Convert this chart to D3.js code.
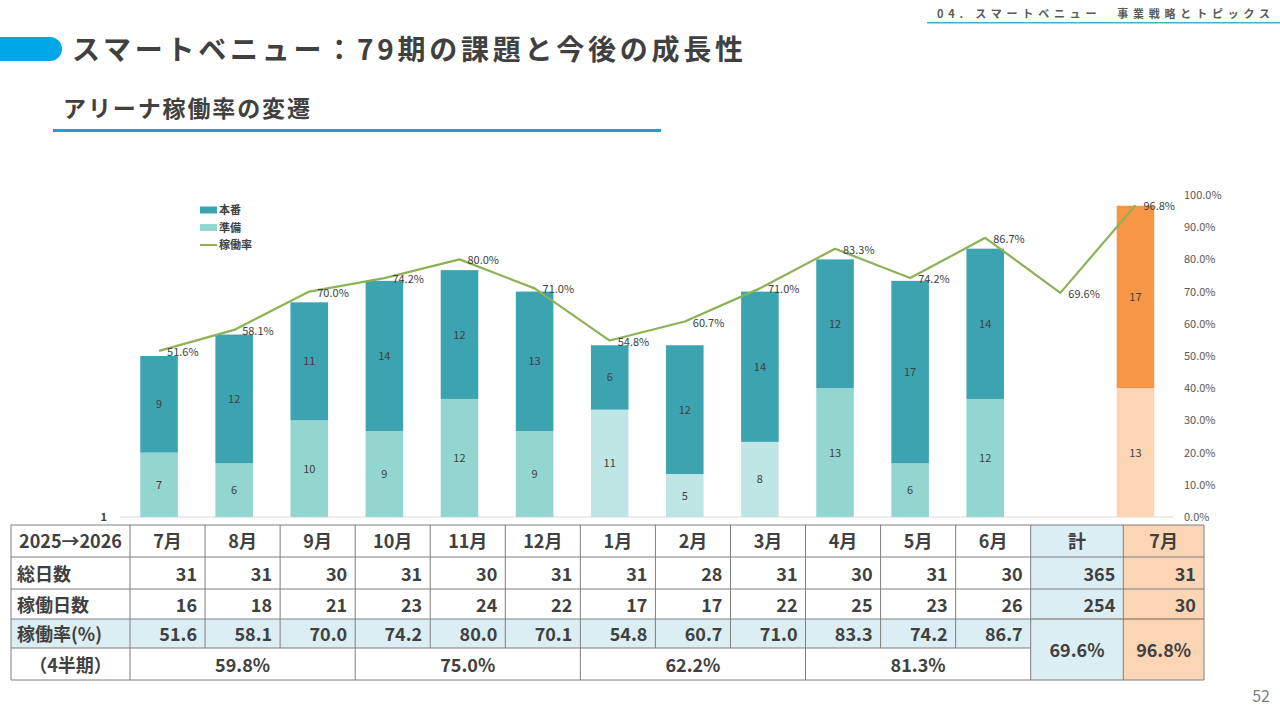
<!DOCTYPE html>
<html>
<head>
<meta charset="utf-8">
<script src="https://cdn.jsdelivr.net/npm/d3@7"></script>
<style>
  body { margin: 0; background: #fff; }
  svg { display: block; font-family: "Noto Sans CJK JP", "Noto Sans", sans-serif; }
</style>
</head>
<body>
<svg id="chart" width="1280" height="720"></svg>
<script>
// chart data
var categories = ["7月", "8月", "9月", "10月", "11月", "12月", "1月", "2月", "3月", "4月", "5月", "6月", "計", "7月"];
var prepDays = [7, 6, 10, 9, 12, 9, 11, 5, 8, 13, 6, 12, null, 13];
var mainDays = [9, 12, 11, 14, 12, 13, 6, 12, 14, 12, 17, 14, null, 17];
var rateLine = [51.6, 58.1, 70.0, 74.2, 80.0, 71.0, 54.8, 60.7, 71.0, 83.3, 74.2, 86.7, 69.6, 96.8];
var rightTicks = [0, 10, 20, 30, 40, 50, 60, 70, 80, 90, 100];

// table data
var tableHead = ["2025→2026", "7月", "8月", "9月", "10月", "11月", "12月", "1月", "2月", "3月", "4月", "5月", "6月", "計", "7月"];
var rowLabels = ["総日数", "稼働日数", "稼働率(%)", "（4半期）"];
var totalDays = [31, 31, 30, 31, 30, 31, 31, 28, 31, 30, 31, 30, 365, 31];
var workDays = [16, 18, 21, 23, 24, 22, 17, 17, 22, 25, 23, 26, 254, 30];
var tableRate = ["51.6", "58.1", "70.0", "74.2", "80.0", "70.1", "54.8", "60.7", "71.0", "83.3", "74.2", "86.7"];
var quarterRate = ["59.8%", "75.0%", "62.2%", "81.3%"];
var sumRate = ["69.6%", "96.8%"];

var svg = d3.select("#chart");
var dark = "#404040";

// ---- header ----
svg.append("path")
  .attr("d", "M0,37 H50 A12,12 0 0 1 62,49 A12,12 0 0 1 50,61 H0 Z")
  .attr("fill", "#00a7e6");
svg.append("text")
  .attr("x", 72).attr("y", 60)
  .attr("font-size", 28).attr("font-weight", 700).attr("fill", dark)
  .attr("textLength", 671).attr("lengthAdjust", "spacing")
  .text("スマートベニュー：79期の課題と今後の成長性");
svg.append("text")
  .attr("x", 63).attr("y", 117)
  .attr("font-size", 23).attr("font-weight", 700).attr("fill", dark)
  .attr("textLength", 247).attr("lengthAdjust", "spacing")
  .text("アリーナ稼働率の変遷");
svg.append("rect").attr("x", 53).attr("y", 129).attr("width", 608).attr("height", 3)
  .attr("fill", "#1f9fd0");

svg.append("text")
  .attr("x", 937).attr("y", 18)
  .attr("font-size", 11).attr("font-weight", 700).attr("fill", "#595959")
  .attr("textLength", 333).attr("lengthAdjust", "spacing")
  .text("04. スマートベニュー　事業戦略とトピックス");
svg.append("rect").attr("x", 927).attr("y", 22).attr("width", 353).attr("height", 1.5)
  .attr("fill", "#47b0c8");

svg.append("text")
  .attr("x", 1270).attr("y", 702).attr("text-anchor", "end")
  .attr("font-size", 16).attr("fill", "#7f7f7f")
  .text("52");

// ---- chart ----
var x = d3.scaleBand()
  .domain(d3.range(categories.length))
  .range([121.5, 1173])
  .paddingInner(0.5)
  .paddingOuter(0.25);

// left (days) axis starts at 1, like the original
var yDays = d3.scaleLinear().domain([1, 31]).range([517, 195]);
var yRate = d3.scaleLinear().domain([0, 100]).range([517, 195]);

// baseline
svg.append("line")
  .attr("x1", 120).attr("x2", 1173)
  .attr("y1", yDays(1)).attr("y2", yDays(1))
  .attr("stroke", "#d9d9d9").attr("stroke-width", 1);
svg.append("text")
  .attr("x", 107).attr("y", yDays(1) + 4)
  .attr("text-anchor", "end")
  .attr("font-size", 11).attr("font-weight", 700).attr("fill", dark)
  .text("1");

// right axis
var rAxis = svg.append("g").attr("transform", "translate(1178,0)")
  .call(d3.axisRight(yRate).tickValues(rightTicks).tickSize(0).tickPadding(6)
    .tickFormat(function(d) { return d3.format(".1f")(d) + "%"; }));
rAxis.select(".domain").remove();
rAxis.selectAll("text")
  .attr("font-size", 11).attr("fill", "#595959")
  .attr("font-family", "\"Noto Sans CJK JP\", sans-serif");

function prepColor(i) {
  if (i === 13) return "#fcd5b4";
  if (i >= 6 && i <= 8) return "#bfe6e4";
  return "#93d6d0";
}
function mainColor(i) {
  return i === 13 ? "#f79646" : "#3ca3b0";
}

var idx = d3.range(categories.length).filter(function(i) { return prepDays[i] != null; });

var bars = svg.append("g");
// 準備 (bottom)
bars.selectAll("rect.prep")
  .data(idx).enter().append("rect")
  .attr("class", "prep")
  .attr("x", function(i) { return x(i); })
  .attr("width", x.bandwidth())
  .attr("y", function(i) { return yDays(prepDays[i]); })
  .attr("height", function(i) { return yDays(1) - yDays(prepDays[i]); })
  .attr("fill", prepColor);
// 本番 (top)
bars.selectAll("rect.main")
  .data(idx).enter().append("rect")
  .attr("class", "main")
  .attr("x", function(i) { return x(i); })
  .attr("width", x.bandwidth())
  .attr("y", function(i) { return yDays(prepDays[i] + mainDays[i]); })
  .attr("height", function(i) { return yDays(prepDays[i]) - yDays(prepDays[i] + mainDays[i]); })
  .attr("fill", mainColor);

// segment labels
bars.selectAll("text.prepLbl")
  .data(idx).enter().append("text")
  .attr("x", function(i) { return x(i) + x.bandwidth() / 2; })
  .attr("y", function(i) { return (yDays(1) + yDays(prepDays[i])) / 2 + 4; })
  .attr("text-anchor", "middle").attr("font-size", 11).attr("fill", dark)
  .text(function(i) { return prepDays[i]; });
bars.selectAll("text.mainLbl")
  .data(idx).enter().append("text")
  .attr("x", function(i) { return x(i) + x.bandwidth() / 2; })
  .attr("y", function(i) { return (yDays(prepDays[i]) + yDays(prepDays[i] + mainDays[i])) / 2 + 4; })
  .attr("text-anchor", "middle").attr("font-size", 11).attr("fill", dark)
  .text(function(i) { return mainDays[i]; });

// rate line
var line = d3.line()
  .x(function(d, i) { return x(i) + x.bandwidth() / 2; })
  .y(function(d) { return yRate(d); });
svg.append("path")
  .datum(rateLine)
  .attr("d", line)
  .attr("fill", "none")
  .attr("stroke", "#8db255")
  .attr("stroke-width", 2.2)
  .attr("stroke-linejoin", "round");
svg.append("g").selectAll("text")
  .data(rateLine).enter().append("text")
  .attr("x", function(d, i) { return x(i) + x.bandwidth() / 2 + 8; })
  .attr("y", function(d) { return yRate(d) + 5; })
  .attr("font-size", 11).attr("fill", dark)
  .text(function(d) { return d.toFixed(1) + "%"; });

// legend
var legendItems = [
  { name: "本番", type: "rect", color: "#3ca3b0" },
  { name: "準備", type: "rect", color: "#93d6d0" },
  { name: "稼働率", type: "line", color: "#8db255" }
];
var lg = svg.append("g").attr("transform", "translate(200,210)");
legendItems.forEach(function(it, k) {
  var g = lg.append("g").attr("transform", "translate(0," + (k * 17.5) + ")");
  if (it.type === "rect") {
    g.append("rect").attr("x", 0).attr("y", -3.5).attr("width", 17).attr("height", 7).attr("fill", it.color);
  } else {
    g.append("line").attr("x1", 0).attr("x2", 17).attr("y1", 0).attr("y2", 0)
      .attr("stroke", it.color).attr("stroke-width", 2);
  }
  g.append("text").attr("x", 19).attr("y", 4)
    .attr("font-size", 11).attr("font-weight", 700).attr("fill", dark)
    .text(it.name);
});

// ---- table ----
var colEdges = [11, 130];
var monthCol = d3.scaleBand().domain(d3.range(12)).range([130, 1030.7]);
d3.range(12).forEach(function(i) { colEdges.push(monthCol(i) + monthCol.bandwidth()); });
colEdges.push(1123.3, 1204);
var rowEdges = [525, 557, 589, 619, 648, 680];

var tb = svg.append("g");
var blue = "#daeef3", peach = "#fcd5b4", border = "#7f7f7f";

// backgrounds
tb.append("rect").attr("x", colEdges[0]).attr("y", rowEdges[3])
  .attr("width", colEdges[13] - colEdges[0]).attr("height", rowEdges[4] - rowEdges[3]).attr("fill", blue);
tb.append("rect").attr("x", colEdges[13]).attr("y", rowEdges[0])
  .attr("width", colEdges[14] - colEdges[13]).attr("height", rowEdges[5] - rowEdges[0]).attr("fill", blue);
tb.append("rect").attr("x", colEdges[14]).attr("y", rowEdges[0])
  .attr("width", colEdges[15] - colEdges[14]).attr("height", rowEdges[5] - rowEdges[0]).attr("fill", peach);

function hline(y, x1, x2, c) {
  tb.append("line").attr("x1", x1).attr("x2", x2).attr("y1", y).attr("y2", y)
    .attr("stroke", c || border).attr("stroke-width", 1);
}
function vline(xx, y1, y2) {
  tb.append("line").attr("x1", xx).attr("x2", xx).attr("y1", y1).attr("y2", y2)
    .attr("stroke", border).attr("stroke-width", 1);
}
// horizontal lines
hline(rowEdges[0], colEdges[0], colEdges[15]);
hline(rowEdges[1], colEdges[0], colEdges[15]);
hline(rowEdges[2], colEdges[0], colEdges[15]);
hline(rowEdges[3], colEdges[0], colEdges[13]);
hline(rowEdges[3], colEdges[13], colEdges[15], "#6f6255");
hline(rowEdges[4], colEdges[0], colEdges[13]);
hline(rowEdges[5], colEdges[0], colEdges[15]);
// vertical lines (quarter row is merged over 3 months)
colEdges.forEach(function(cx, k) {
  if (k === 0) { vline(cx, rowEdges[0], rowEdges[5]); return; }
  if (k >= 2 && k <= 12 && (k - 1) % 3 !== 0) {
    vline(cx, rowEdges[0], rowEdges[4]);
  } else {
    vline(cx, rowEdges[0], rowEdges[5]);
  }
});

function cellText(txt, x0, x1, y, anchor) {
  var t = tb.append("text").attr("y", y)
    .attr("font-size", 18).attr("font-weight", 700).attr("fill", dark).text(txt);
  if (anchor === "end") t.attr("x", x1 - 8).attr("text-anchor", "end");
  else if (anchor === "start") t.attr("x", x0 + 6);
  else t.attr("x", (x0 + x1) / 2).attr("text-anchor", "middle");
}
// header row
tableHead.forEach(function(h, k) {
  cellText(h, colEdges[k], colEdges[k + 1], rowEdges[1] - 9, "middle");
});
// row labels
cellText(rowLabels[0], colEdges[0], colEdges[1], rowEdges[2] - 8, "start");
cellText(rowLabels[1], colEdges[0], colEdges[1], rowEdges[3] - 7, "start");
cellText(rowLabels[2], colEdges[0], colEdges[1], rowEdges[4] - 7, "start");
cellText(rowLabels[3], colEdges[0], colEdges[1], rowEdges[5] - 8, "middle");
// values
totalDays.forEach(function(v, k) {
  cellText(v, colEdges[k + 1], colEdges[k + 2], rowEdges[2] - 8, "end");
});
workDays.forEach(function(v, k) {
  cellText(v, colEdges[k + 1], colEdges[k + 2], rowEdges[3] - 7, "end");
});
tableRate.forEach(function(v, k) {
  cellText(v, colEdges[k + 1], colEdges[k + 2], rowEdges[4] - 7, "end");
});
quarterRate.forEach(function(v, q) {
  cellText(v, colEdges[1 + q * 3], colEdges[4 + q * 3], rowEdges[5] - 8, "middle");
});
sumRate.forEach(function(v, k) {
  cellText(v, colEdges[13 + k], colEdges[14 + k], (rowEdges[3] + rowEdges[5]) / 2 + 7, "middle");
});
</script>
</body>
</html>
